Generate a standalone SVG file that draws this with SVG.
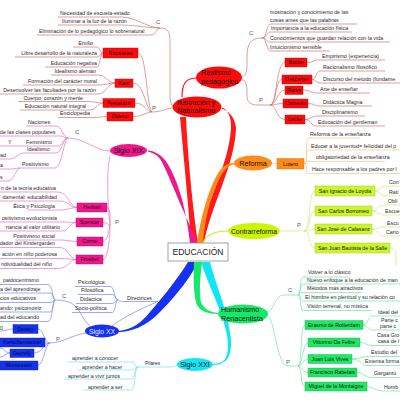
<svg xmlns="http://www.w3.org/2000/svg" width="400" height="400" viewBox="0 0 400 400">
<style>
text{font-family:"Liberation Sans",Arial,sans-serif}
.t{font-size:5.3px;fill:#2a2a2a}
.e{text-anchor:end}
.m{text-anchor:middle}
.n{font-size:7.2px;fill:#111}
.lb{font-size:6px;fill:#555}
.bx{font-size:5.3px;fill:#201010;text-anchor:middle}
.c{fill:none;stroke-width:.7}
.cr{stroke:#d27474}
.co{stroke:#f3c48e}
.cy{stroke:#cfe67c}
.cm{stroke:#e674b8}
.cb{stroke:#7585ef}
.cc{stroke:#78dfee}
.cg{stroke:#74e3a2}
.rb{fill:#ff0a0a;stroke:#c40000;stroke-width:.4}
.mb{fill:#f0168c;stroke:#b8006a;stroke-width:.4}
.bb{fill:#1432f0;stroke:#0a20b0;stroke-width:.4}
.gb{fill:#1ee864;stroke:#10b048;stroke-width:.4}
.yb{fill:#ccf52e;stroke:#a0c010;stroke-width:.4}
.ob{fill:#ff8c1a;stroke:#d06a00;stroke-width:.4}
</style>
<rect width="400" height="400" fill="#ffffff"/>
<g id="connectors">
  <path d="M191,243 C189,210 184,160 180,117 L186,117 C188,160 193,210 198,243 Z" fill="#ff1a1a"/>
  <path d="M197,243 C205,205 229,165 231,128 C231,116 228,110 222,107.5 L222,109 C227,110 235,116 236,128 C235,165 211,205 204,243 Z" fill="#ff1a1a"/>
  <path d="M197,243 C201,215 211,180 222,168 C226,164 230,163 235,163 L235,164 C230,165 226,168 224,171 C214,185 205,215 203,243 Z" fill="#ff8c1a"/>
  <path d="M190,243 C186,205 176,175 165,160 C160,154 154,151 148,150.5 L148,151.5 C154,153 159,156 162,162 C170,178 180,205 198,243 Z" fill="#f0168c"/>
  <path d="M188,262 C180,275 165,295 150,312 C142,322 132,330 118,331 L118,332 C133,332 146,325 156,316 C172,300 188,282 198,262 Z" fill="#1432f0"/>
  <path d="M194,262 C193,282 194,298 197,305 C200,311 208,314 218,314 L218,313 C209,312 203,308 201,302 C199,294 200,280 202,262 Z" fill="#16e86a"/>
  <path d="M201,262 C208,285 222,310 227,335 C229,350 228,360 220,363 L212,364 L212,365 C224,365 232,360 231,340 C229,315 216,285 210,262 Z" fill="#10e6f5"/>
  <path d="M203,243 C206,235 214,231 228,231" fill="none" stroke="#c8ee3a" stroke-width="1.2"/>
  <path d="M197,78 C187,78 182,82 182,97" fill="none" stroke="#ff1a1a" stroke-width="1.2"/>
  <path class="c cr" d="M58,17 H122 C135,17 148,28 160,28 M58,25 H122 C135,25 148,28 160,28 M37,35 H152 C156,35 156,28 160,28 M160,28 C167,28 170,31 170,40 L170,96 C170,101 171,104 173,106"/>
  <path class="c cr" d="M73,47 H97 C100,47 100,53 103,53 M15,57 H97 C100,57 100,53 103,53 M45,67 H97 C100,67 100,53 103,53"/>
  <path class="c cr" d="M51,75 H98 C106,75 108,83 115,83 M23,85 H98 C106,85 108,83 115,83 M0,94 H98 C106,94 108,83 115,83"/>
  <path class="c cr" d="M18,101.5 H88 C95,101.5 97,103 103,103 M20,110 H90 C96,110 98,103 103,103 M58,117.5 H94 C100,117.5 102,116.5 107,116.5"/>
  <path class="c cr" d="M138,53 C147,53 146,105 152,112 M133,83 C144,83 145,108 152,112 M135,103 C145,103 146,112 152,112 M133,116.5 C143,116.5 146,112 152,112 M152,112 C162,112 166,108 173,108"/>
  <path class="c cr" d="M242,76 C247,76 247,70 247,58 C247,44 250,38 262,38 M242,80 C247,80 247,88 247,96 C247,102 250,105 258,105 H270"/>
  <path class="c cr" d="M262,38 C267,38 266,24 271,24 H357 M262,38 C267,38 266,32 271,32 H352 M262,38 C267,38 266,42 271,42 H390 M262,38 C267,38 266,51 271,51 H330"/>
  <path class="c cr" d="M270,105 C277,105 276,62.5 285,62.5 M270,105 C277,105 275,79.5 282,79.5 M270,105 C277,105 277,90 285,90 M270,105 C277,105 276,103.5 283,103.5 M270,105 C277,105 276,119.5 285,119.5"/>
  <path class="c cr" d="M307,62.5 C313,62.5 313,60 318,60 H385 M312,79.5 C316,79.5 316,71 320,71 H385 M312,79.5 C316,79.5 316,83 320,83 H400 M303,90 C310,90 310,93 317,93 H370 M308,103.5 C314,103.5 314,106 320,106 H372 M305,119.5 C311,119.5 311,116 318,116 H365 M305,119.5 C311,119.5 311,126 316,126 H385"/>
  <path class="c co" d="M272,163.5 H277 M304,163.5 C309,163.5 304,138 309,138 H360 M304,163.5 C309,163.5 304,150 309,150 H400 M304,163.5 C309,163.5 304,161.5 309,161.5 H385 M304,163.5 C309,163.5 304,173.5 309,173.5 H400"/>
  <path class="c cy" d="M280,231 H304 M304,231 C311,231 308,191 315,191 M304,231 C311,231 308,211 315,211 M304,231 C311,231 308,229 315,229 M304,231 C311,231 308,248 315,248"/>
  <path class="c cy" d="M375,191 C380,191 380,186 386,186 H400 M375,191 C380,191 380,196 386,196 H400 M372,211 C378,211 378,205 384,205 H400 M372,211 C378,211 378,215 384,215 H400 M372,229 C378,229 378,227 384,227 H400 M372,229 C378,229 378,236 384,236 H400 M390,248 C394,248 396,251 396,256 L396,266"/>
  <path class="c cm" d="M110,151 C96,151 84,138 68,138 M26,126 H56 C62,126 63,138 68,138 M0,136 H60 C64,136 64,138 68,138 M0,146 H58 C63,146 63,138 68,138 M24,153 H56 C62,153 63,138 68,138 M20,168 H55 C62,168 64,138 68,138 M0,159 H10 C16,159 18,153 24,153 M0,169 H12 C15,169 16,168 20,168 M0,181 H8 C14,181 16,168 20,168"/>
  <path class="c cm" d="M110,156 C106,170 108,210 110,225 M107,207.5 C111,207.5 110,222 110,225 M103,222.5 C107,222.5 108,225 110,225 M103,241.5 C107,241.5 109,232 110,225 M103,259.5 C108,259.5 110,235 110,225"/>
  <path class="c cm" d="M0,192 H58 C68,192 70,207.5 77,207.5 M0,201 H60 C68,201 70,207.5 77,207.5 M28,210 H60 C68,210 70,207.5 77,207.5 M0,222 H60 C68,222 70,222.5 76,222.5 M0,231 H62 C69,231 70,222.5 76,222.5 M15,240 H60 C68,240 70,241.5 77,241.5 M0,247.5 H60 C68,247.5 70,259.5 76,259.5 M0,258.5 H62 C69,258.5 70,259.5 76,259.5 M0,268.5 H58 C68,268.5 70,259.5 76,259.5"/>
  <path class="c cb" d="M0,284.5 H48 C53,284.5 52,300 55,300 M0,293 H50 C54,293 53,300 55,300 M0,302.5 H50 C53,302.5 53,300 55,300 M0,312 H50 C54,312 53,300 55,300 M0,321.5 H48 C53,321.5 52,300 55,300 M55,300 C70,300 76,305 80,312 C83,318 86,323 90,326"/>
  <path class="c cb" d="M75,286.5 H110 C115,286.5 114,300 118,300 M78,294.5 H112 C116,294.5 115,300 118,300 M76,303.5 H112 C116,303.5 115,300 118,300 M72,312.5 H112 C116,312.5 115,300 118,300 M118,300 C120,301 120,301.5 124,301.5 H158 M158,301.5 C145,307 125,316 112,326"/>
  <path class="c cb" d="M86,333 C72,335 62,343 50,343 M50,343 C44,343 44,329 38,329 M50,343 H45 M50,343 C44,343 42,353 34,353 M50,343 C45,343 44,365 38,365 M13,329 C8,329 6,331 0,331 M10,353 C5,353 5,348 0,348 M10,353 C5,353 5,357 0,357"/>
  <path class="c cc" d="M177,365 C174,367 173,367 170,367 H138 M138,367 C134,367 136,362 131,362 H68 M138,367 C134,367 136,370 131,370 H78 M138,367 C134,367 136,379 131,379 H64 M138,367 C134,367 136,390 131,390 H84"/>
  <path class="c cg" d="M267,312 C274,312 274,295 284,295 H298 M298,295 C301,295 300,277 303,277 H350 M298,295 C301,295 300,284 303,284 H400 M298,295 C301,295 300,292.5 303,292.5 H362 M298,295 C301,295 300,301 303,301 H400 M298,295 C301,295 300,310.5 303,310.5 H372"/>
  <path class="c cg" d="M267,316 C275,316 276,366 288,366 H298 M298,366 C302,366 300,325 305,325 M298,366 C302,366 303,342.5 308,342.5 M298,366 C302,366 303,359 308,359 M298,366 C302,366 303,372.5 308,372.5 M298,366 C302,366 300,386.5 305,386.5"/>
  <path class="c cg" d="M363,325 C368,325 368,316 372,316 H400 M363,325 C368,325 368,330 372,330 H400 M360,342.5 C366,342.5 366,345.5 372,345.5 H400 M352,359 C360,359 362,356.5 368,356.5 H400 M352,359 C360,359 362,365.5 366,365.5 H400 M357,372.5 C363,372.5 365,377.5 372,377.5 H400 M367,386.5 C373,386.5 376,391 382,391 H400"/>
</g>

<g id="ilustracion">
  <ellipse cx="197" cy="107" rx="24.5" ry="10.5" fill="#ff0a0a"/>
  <text class="n" x="177" y="104.5">Ilustración y</text>
  <text class="n" x="177" y="112.5">Naturalismo</text>
  <text class="lb" x="156" y="24">C</text>
  <text class="lb" x="152" y="110">P</text>
  <text class="t" x="60" y="15">Necesidad de escuela-estado</text>
  <text class="t" x="62" y="23">Iluminar a la luz de la razón</text>
  <text class="t" x="39" y="33">Eliminación de lo pedagógico lo sobrenatural</text>
</g>
<g id="rousseau">
  <rect class="rb" x="103" y="48" width="35" height="10"/>
  <text class="bx" x="120.5" y="54.9">Rousseau</text>
  <text class="t e" x="93" y="45">Emilio</text>
  <text class="t e" x="97" y="55">Libre desarrollo de la naturaleza</text>
  <text class="t e" x="97" y="65">Educación negativa</text>
</g>
<g id="kant">
  <rect class="rb" x="115" y="79" width="18" height="8.5"/>
  <text class="bx" x="124" y="85.2">Kant</text>
  <text class="t e" x="96" y="73">Idealismo alemán</text>
  <text class="t e" x="97" y="83">Formación del carácter moral</text>
  <text class="t e" x="96" y="92">Desenvolver las facultades por la razón</text>
</g>
<g id="pestalozzi">
  <rect class="rb" x="103" y="98.5" width="32" height="9"/>
  <text class="bx" x="119" y="104.9">Pestalozzi</text>
  <text class="t e" x="83" y="99.5">Cuerpo, corazón y mente</text>
  <text class="t e" x="86" y="108">Educación natural integral</text>
</g>
<g id="diderot">
  <rect class="rb" x="107" y="112" width="26" height="9"/>
  <text class="bx" x="120" y="118.4">Diderot</text>
  <text class="t e" x="90" y="115.3">Enciclopedia</text>
</g>

<g id="realismo">
  <ellipse cx="219" cy="77.5" rx="23" ry="11" fill="#ff0a0a"/>
  <text class="n" x="201" y="75">Realismo</text>
  <text class="n" x="201" y="84">pedagógico</text>
  <text class="lb" x="249" y="35">C</text>
  <text class="lb" x="259" y="102">P</text>
  <text class="t" x="270" y="14">mostración y conocimiento de las</text>
  <text class="t" x="270" y="22">cosas antes que las palabras</text>
  <text class="t" x="271" y="30">Importancia a la educación física</text>
  <text class="t" x="270" y="40">Conocimientos que guardan relación con la vida</text>
  <text class="t" x="270" y="49">Intuicionismo sensible</text>
</g>
<g id="bacon">
  <rect class="rb" x="285" y="58" width="22" height="9"/>
  <text class="bx" x="296" y="64.4">Bacon</text>
  <text class="t" x="322" y="58">Empirismo (experiencia)</text>
</g>
<g id="descartes">
  <rect class="rb" x="282" y="75" width="30" height="9"/>
  <text class="bx" x="297" y="81.4">Descartes</text>
  <text class="t" x="323" y="69">Racionalismo filosófico</text>
  <text class="t" x="323" y="81">Discurso del método (fundame</text>
</g>
<g id="ratke">
  <rect class="rb" x="285" y="86" width="18" height="8.5"/>
  <text class="bx" x="294" y="92.2">Ratke</text>
  <text class="t" x="320" y="91">Arte de enseñar</text>
</g>
<g id="comenio">
  <rect class="rb" x="283" y="99" width="25" height="9"/>
  <text class="bx" x="295.5" y="105.4">Comenio</text>
  <text class="t" x="323" y="104">Didáctica Magna</text>
</g>
<g id="locke">
  <rect class="rb" x="285" y="115" width="20" height="9"/>
  <text class="bx" x="295" y="121.4">Locke</text>
  <text class="t" x="322" y="114">Disciplinarismo</text>
  <text class="t" x="318" y="124">Educación del gentleman</text>
</g>

<g id="reforma">
  <ellipse cx="253" cy="163" rx="19" ry="7.5" fill="#ff8c1a"/>
  <text class="n m" x="253" y="165.6">Reforma</text>
</g>
<g id="lutero">
  <rect class="ob" x="277" y="158.5" width="27" height="10.5"/>
  <text class="bx" x="290.5" y="165.6">Lutero</text>
  <text class="t" x="310" y="136">Reforma de la enseñanza</text>
  <text class="t" x="311" y="148">Educar a la juventud= felicidad del p</text>
  <text class="t" x="316" y="159">obligatoriedad de la enseñanza</text>
  <text class="t" x="312" y="171">Hace responsable a los padres por l</text>
</g>

<g id="contrarreforma">
  <ellipse cx="254" cy="231" rx="26" ry="8" fill="#ccf500"/>
  <text class="n m" x="254" y="233.5" style="font-size:6.8px">Contrarreforma</text>
  <text class="lb" x="297" y="227">P</text>
</g>
<g id="loyola">
  <rect class="yb" x="315" y="186" width="60" height="10"/>
  <text class="bx" x="345" y="192.9">San Ignacio de Loyola</text>
  <text class="t" x="389" y="184">Con</text>
  <text class="t" x="389" y="194">Rati</text>
</g>
<g id="borromeo">
  <rect class="yb" x="315" y="206" width="57" height="10"/>
  <text class="bx" x="343.5" y="212.9">San Carlos Borromeo</text>
  <text class="t" x="388" y="203">Obli</text>
  <text class="t" x="385" y="213">Escue</text>
</g>
<g id="calasanz">
  <rect class="yb" x="315" y="224" width="57" height="10"/>
  <text class="bx" x="343.5" y="230.9">San José de Calasanz</text>
  <text class="t" x="387" y="225">Escu</text>
  <text class="t" x="386" y="234">Cario</text>
</g>
<g id="salle">
  <rect class="yb" x="315" y="243" width="75" height="10"/>
  <text class="bx" x="352.5" y="249.9">San Juan Bautista de la Salle</text>
</g>

<g id="sigloXIX">
  <ellipse cx="128.5" cy="150.5" rx="18.5" ry="6.5" fill="#f0168c"/>
  <text class="n m" x="128.5" y="153">Siglo XIX</text>
  <text class="lb" x="75" y="134">C</text>
  <text class="lb" x="115" y="224">P</text>
  <text class="t" x="28" y="124">Naciones</text>
  <text class="t" x="0" y="134">de las clases populares</text>
  <text class="t" x="8" y="144">Y</text>
  <text class="t" x="26" y="144">Feminismo</text>
  <text class="t" x="27" y="151">Idealismo</text>
  <text class="t" x="0" y="157">ad</text>
  <text class="t" x="22" y="165.5">Positivismo</text>
  <text class="t" x="0" y="166.5">a</text>
  <text class="t" x="0" y="179">s</text>
</g>
<g id="herbart">
  <rect class="mb" x="77" y="203" width="30" height="9"/>
  <text class="bx" x="92" y="209.4">Herbart</text>
  <text class="t e" x="56" y="190">n de la teoría educativa</text>
  <text class="t e" x="57" y="199">damental: educabilidad</text>
  <text class="t e" x="55" y="207.8">Ética y Psicología</text>
</g>
<g id="spencer">
  <rect class="mb" x="76" y="218" width="27" height="9"/>
  <text class="bx" x="89.5" y="224.4">Spencer</text>
  <text class="t e" x="57" y="219.8">ositivismo evolucionista</text>
  <text class="t e" x="60" y="228.8">rtancia al valor utilitario</text>
</g>
<g id="comte">
  <rect class="mb" x="77" y="237" width="26" height="9"/>
  <text class="bx" x="90" y="243.4">Comte</text>
  <text class="t e" x="55" y="237.6">Positivismo social</text>
</g>
<g id="froebel">
  <rect class="mb" x="76" y="255" width="27" height="9"/>
  <text class="bx" x="89.5" y="261.4">Froebel</text>
  <text class="t e" x="55" y="245.2">dador del Kindergarden</text>
  <text class="t e" x="57" y="256">ación en niño poderosa</text>
  <text class="t e" x="52" y="266">ndividualidad del niño</text>
</g>

<g id="sigloXX">
  <ellipse cx="102" cy="331" rx="17" ry="6.5" fill="#1432f0"/>
  <text class="n m" x="102" y="333.5" style="font-size:6.8px;fill:#e8ecff">Siglo XX</text>
  <text class="lb" x="62" y="298">C</text>
  <text class="lb" x="56" y="341">P</text>
  <text class="t" x="3" y="282">paidocentrismo</text>
  <text class="t" x="0" y="291">a del aprendizaje</text>
  <text class="t" x="0" y="300">cios educativos</text>
  <text class="t" x="0" y="309.5">ando: psicomotriz</text>
  <text class="t" x="0" y="319">ad del educando</text>
  <text class="t" x="0" y="329.5">0</text>
</g>
<g id="directrices">
  <text class="t" x="127" y="299.5">Directrices</text>
  <text class="t" x="78" y="284">Psicológica</text>
  <text class="t" x="81" y="292">Filosófica</text>
  <text class="t" x="80" y="301">Didáctica</text>
  <text class="t" x="75" y="310">Socio-política</text>
</g>
<g id="dewey">
  <rect class="bb" x="13" y="324.5" width="25" height="9"/>
  <text class="bx" x="25.5" y="330.9" style="fill:#000830">Dewey</text>
</g>
<g id="kerschensteiner">
  <rect class="bb" x="-2" y="338" width="47" height="9"/>
  <text class="bx" x="22.5" y="344.4" style="fill:#000830">Kerschensteiner</text>
</g>
<g id="decroly">
  <rect class="bb" x="10" y="349" width="24" height="8.5"/>
  <text class="bx" x="22" y="355.2" style="fill:#000830">Decroly</text>
</g>
<g id="montessori">
  <rect class="bb" x="-2" y="361" width="40" height="9"/>
  <text class="bx" x="19" y="367.4" style="fill:#000830">Montessori</text>
</g>

<g id="sigloXXI">
  <ellipse cx="195" cy="364.5" rx="18" ry="6.5" fill="#10e6f5"/>
  <text class="n m" x="195" y="367">Siglo XXI</text>
  <text class="t" x="145" y="365" style="font-size:5px">Pilares</text>
  <text class="t" x="72" y="360">aprender a conocer</text>
  <text class="t" x="82" y="368.5">aprender a hacer</text>
  <text class="t" x="68" y="377.5">aprender a vivir juntos</text>
  <text class="t" x="88" y="388.5">aprender a ser</text>
</g>

<g id="humanismo">
  <ellipse cx="243" cy="314" rx="25" ry="9.5" fill="#16e86a"/>
  <text class="n" x="221" y="311.5">Humanismo</text>
  <text class="n" x="221" y="320.5">Renacentista</text>
  <text class="lb" x="288" y="292">C</text>
  <text class="lb" x="286" y="364">P</text>
  <text class="t" x="308" y="274">Volver a lo clásico</text>
  <text class="t" x="307" y="281.5">Nuevo enfoque a la educación de man</text>
  <text class="t" x="307" y="290">Métodos más atractivos</text>
  <text class="t" x="305" y="298.5">El hombre en plenitud y su relación co</text>
  <text class="t" x="307" y="308">Visión terrenal, no mística</text>
</g>
<g id="erasmo">
  <rect class="gb" x="305" y="320.5" width="58" height="9"/>
  <text class="bx" x="334" y="326.9">Erasmo de Rotterdam</text>
  <text class="t" x="378" y="313.5">Ideal del</text>
  <text class="t" x="381" y="322">Parte c</text>
  <text class="t" x="380" y="328">parte c</text>
</g>
<g id="vittorino">
  <rect class="gb" x="308" y="338" width="52" height="9"/>
  <text class="bx" x="334" y="344.4">Vittorino Da Feltre</text>
  <text class="t" x="377" y="337">Casa Gio</text>
  <text class="t" x="378" y="343">casa de l</text>
</g>
<g id="vives">
  <rect class="gb" x="308" y="354.5" width="44" height="9"/>
  <text class="bx" x="330" y="360.9">Juan Luis Vives</text>
  <text class="t" x="371" y="354">Estudio del</text>
  <text class="t" x="365" y="363">Extensa forma</text>
</g>
<g id="rabelais">
  <rect class="gb" x="308" y="368" width="49" height="9"/>
  <text class="bx" x="332.5" y="374.4">Francisco Rabelais</text>
  <text class="t" x="374" y="375">Gargantú</text>
</g>
<g id="montaigne">
  <rect class="gb" x="305" y="382" width="62" height="9"/>
  <text class="bx" x="336" y="388.4">Miguel de la Montaigne</text>
  <text class="t" x="384" y="389">Homb</text>
</g>

<g id="educacion">
  <rect x="168" y="243" width="60" height="18" fill="#ffffff" stroke="#8a8a8a" stroke-width=".8"/>
  <text class="m" x="198" y="255.3" style="font-size:8.5px;fill:#222">EDUCACIÓN</text>
</g>
</svg>
